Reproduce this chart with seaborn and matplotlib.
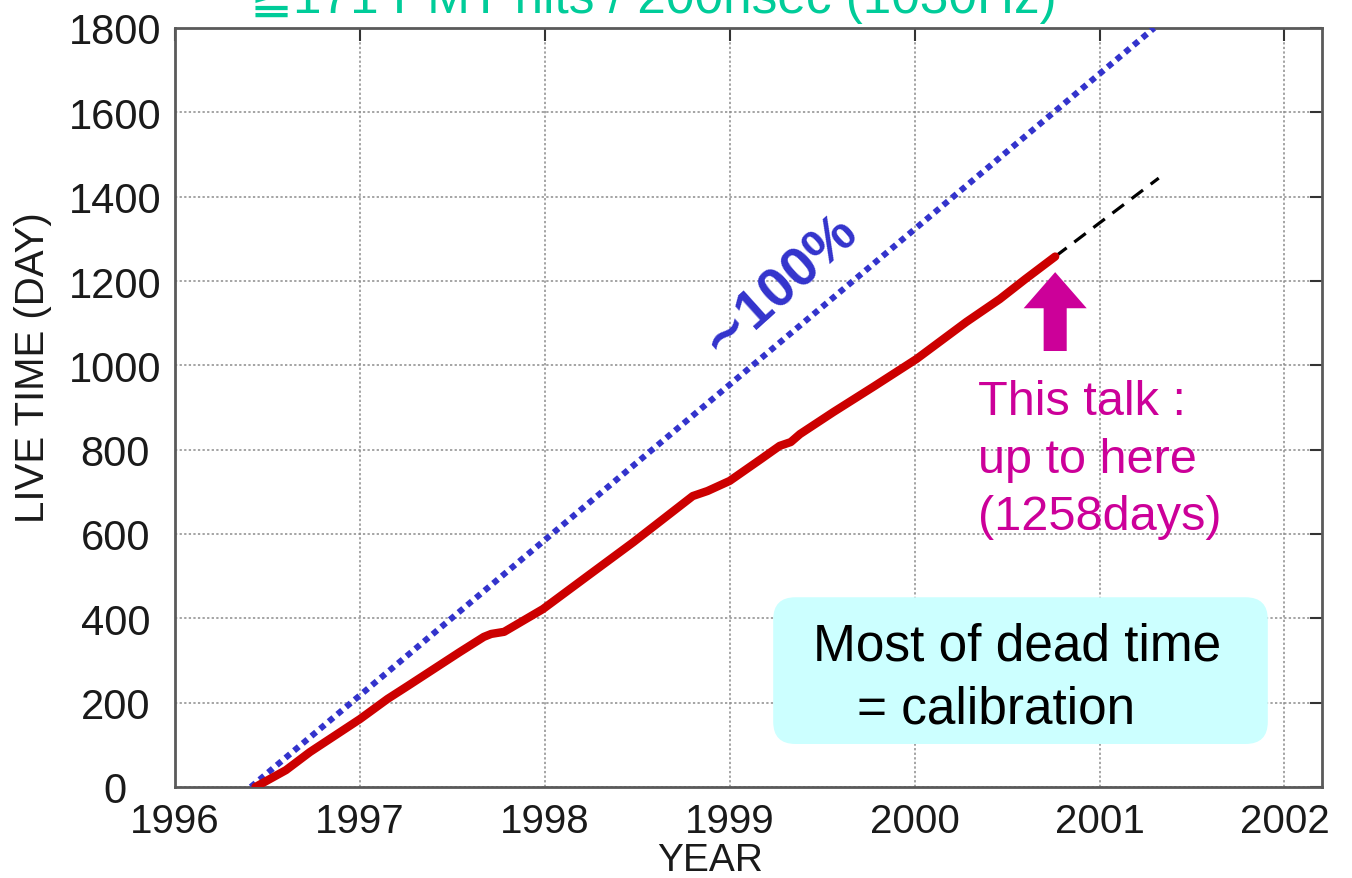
import matplotlib
matplotlib.use("Agg")
import matplotlib.pyplot as plt
from matplotlib.patches import FancyBboxPatch
import numpy as np
import pandas as pd
import seaborn as sns

# Accumulated live time (days) against calendar year
live_year = [1996.435, 1996.60, 1996.73, 1997.00, 1997.15, 1997.26, 1997.40,
             1997.54, 1997.67, 1997.71, 1997.78, 1997.99, 1998.23, 1998.48,
             1998.80, 1998.88, 1999.00, 1999.17, 1999.27, 1999.33, 1999.38,
             1999.56, 1999.78, 2000.01, 2000.28, 2000.46, 2000.60, 2000.76]
live_days = [0, 40, 83, 161, 209, 240, 280,
             320, 356, 363, 368, 422, 500, 581,
             690, 702, 726, 778, 809, 818, 837,
             889, 950, 1015, 1103, 1157, 1205, 1258]

# ~100% live-time reference line
full_year = [1996.41, 2001.295]
full_days = [0, 1800]

# Extrapolation beyond the current data
proj_year = [2000.76, 2001.32]
proj_days = [1258, 1444]

year_ticks = [1996, 1997, 1998, 1999, 2000, 2001, 2002]
day_ticks = [0, 200, 400, 600, 800, 1000, 1200, 1400, 1600, 1800]

sns.set_theme(style="white")
plt.rcParams["font.family"] = ["Liberation Sans", "DejaVu Sans"]

W, H = 1352, 879
fig = plt.figure(figsize=(W / 100, H / 100), dpi=100)
ax = fig.add_axes([175 / W, 1 - 788 / H, (1322 - 175) / W, (788 - 29) / H])

live = pd.DataFrame({"year": live_year, "days": live_days})
full = pd.DataFrame({"year": full_year, "days": full_days})
proj = pd.DataFrame({"year": proj_year, "days": proj_days})

sns.lineplot(data=full, x="year", y="days", ax=ax, color="#3333cc", lw=4.4,
             linestyle=(0, (1, 0.85)), dash_capstyle="butt", zorder=3)
sns.lineplot(data=proj, x="year", y="days", ax=ax, color="black", lw=2.3,
             linestyle=(0, (4.5, 3)), zorder=3)
sns.lineplot(data=live, x="year", y="days", ax=ax, color="#cc0000", lw=6.0,
             solid_capstyle="round", solid_joinstyle="round", zorder=4)

ax.set_xlim(1996, 2002.203)
ax.set_ylim(0, 1800)
ax.set_xticks(year_ticks)
ax.set_yticks(day_ticks)
ax.set_xticklabels([str(y) for y in year_ticks])
ax.set_yticklabels([str(d) for d in day_ticks])
ax.set_xlabel("")
ax.set_ylabel("")

ax.grid(True, color="#8c8c8c", lw=1.1, linestyle=(0, (1.5, 1.5)))
ax.set_axisbelow(True)
for s in ax.spines.values():
    s.set_color("#5a5a5a")
    s.set_linewidth(2.0)
    s.set_visible(True)

ax.tick_params(axis="both", which="major", direction="in", top=True, right=True,
               length=9, width=1.5, color="#333333", labelcolor="#1a1a1a")
ax.tick_params(axis="x", pad=11, labelsize=29)
ax.tick_params(axis="y", pad=43, labelsize=30)
plt.setp(ax.get_yticklabels(), ha="center")

# Axis titles
fig.text(710 / W, 1 - 871 / H, "YEAR", fontsize=28, color="#1a1a1a",
         ha="center", va="baseline")
fig.text(33 / W, 1 - 368 / H, "LIVE TIME (DAY)", fontsize=29, color="#1a1a1a",
         rotation=90, ha="center", va="center")

# Trigger condition header
fig.text(250 / W, 1 - 13 / H, "≧171 PMT hits / 200nsec (1030Hz)",
         fontsize=37, color="#00cc99", ha="left", va="baseline")

# Reference line label
ax.text(1999.27, 1190, "∼100%", fontsize=40, fontweight="bold", color="#3333cc",
        rotation=42, rotation_mode="anchor", ha="center", va="center", zorder=5)

# Arrow marking the end of the present data set
end_year, end_days = live_year[-1], live_days[-1]
ax.annotate("", xy=(end_year, end_days - 37), xytext=(end_year, end_days - 224),
            arrowprops=dict(arrowstyle="simple,head_length=1.3,head_width=2.27,tail_width=0.83",
                            mutation_scale=20, fc="#cc0099", ec="none",
                            shrinkA=0, shrinkB=0), zorder=5)

talk_lines = ["This talk :", "up to here", f"({end_days}days)"]
for i, line in enumerate(talk_lines):
    ax.text(2000.34, 884 - i * 136, line, fontsize=35, color="#cc0099",
            ha="left", va="baseline", zorder=5)

# Note box
box = FancyBboxPatch((1999.235, 102), 2001.91 - 1999.235, 450 - 102,
                     boxstyle="round,pad=0,rounding_size=0.12",
                     mutation_aspect=440, fc="#ccffff", ec="none", zorder=5)
ax.add_patch(box)
ax.text(1999.45, 303, "Most of dead time", fontsize=37, color="black",
        ha="left", va="baseline", zorder=6)
ax.text(1999.69, 154, "= calibration", fontsize=37, color="black",
        ha="left", va="baseline", zorder=6)

fig.savefig("out.png", dpi=100)
